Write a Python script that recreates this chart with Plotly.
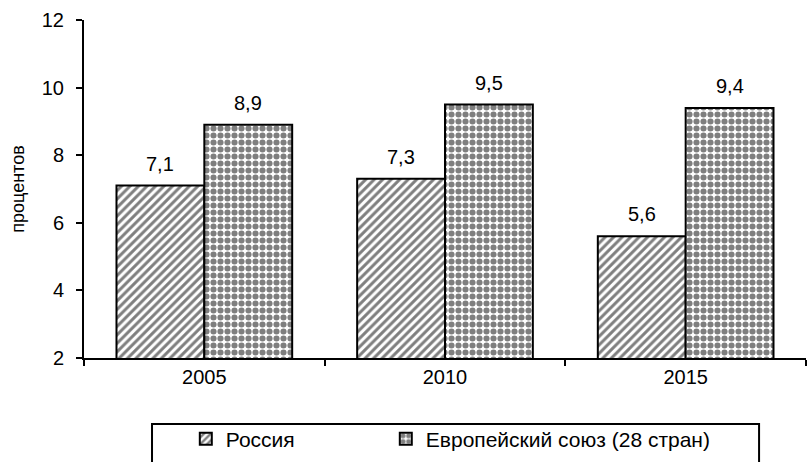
import plotly.graph_objects as go

years = ["2005", "2010", "2015"]
russia = [7.1, 7.3, 5.6]
eu = [8.9, 9.5, 9.4]
series_names = ["Россия", "Европейский союз (28 стран)"]
y_ticks = [2, 4, 6, 8, 10, 12]

FONT = "Liberation Sans, Arial, sans-serif"
W, H = 807, 462
M = dict(l=84, r=1, t=20, b=104)
BARGAP = 0.27

def fmt(v):
    return str(v).replace(".", ",")

fig = go.Figure()
fig.add_trace(go.Bar(
    x=years, y=russia, name=series_names[0], legend="legend",
    marker=dict(color="white", line=dict(color="black", width=2),
                pattern=dict(shape="/", fgcolor="black", bgcolor="white", size=6, solidity=0.5)),
))
fig.add_trace(go.Bar(
    x=years, y=eu, name=series_names[1], legend="legend2",
    marker=dict(color="white", line=dict(color="black", width=2),
                pattern=dict(shape=".", fgcolor="black", bgcolor="white", size=7, solidity=0.6)),
))

# value labels above each bar (offset = half a bar width, derived from layout)
plot_w = W - M["l"] - M["r"]
bar_w = plot_w / len(years) * (1 - BARGAP) / 2
for series, sign in ((russia, -1), (eu, 1)):
    for i, v in enumerate(series):
        fig.add_annotation(x=i, y=v, xref="x", yref="y", text=fmt(v), showarrow=False,
                           xshift=sign * bar_w / 2, yshift=22, yanchor="middle",
                           font=dict(size=20, family=FONT, color="black"))

leg_common = dict(orientation="h", yanchor="middle", y=-0.2396, xanchor="left",
                  font=dict(size=21, family=FONT), bgcolor="rgba(0,0,0,0)")
fig.update_layout(
    width=W, height=H,
    margin=M,
    paper_bgcolor="white", plot_bgcolor="white",
    font=dict(family=FONT, size=20, color="black"),
    barmode="group", bargap=BARGAP, bargroupgap=0,
    showlegend=True,
    legend=dict(x=0.141, **leg_common),
    legend2=dict(x=0.418, **leg_common),
)
fig.update_xaxes(
    type="category", range=[-0.5, len(years) - 0.5], showline=True, linecolor="black", linewidth=2,
    ticks="outside", tickson="boundaries", ticklen=6, tickwidth=1.5, tickcolor="black",
    showgrid=False, tickfont=dict(size=20), automargin=False,
)
fig.update_yaxes(
    range=[2, 12], tickvals=y_ticks, showline=True, linecolor="black", linewidth=2,
    ticks="outside", ticklen=6, tickwidth=2, tickcolor="black", ticklabelstandoff=8,
    showgrid=False, zeroline=False, tickfont=dict(size=20), automargin=False,
    title=dict(text="процентов", font=dict(size=18), standoff=12),
)
fig.add_shape(type="rect", xref="paper", yref="paper",
              x0=0.0942, x1=0.935, y0=-0.195, y1=-0.40,
              line=dict(color="black", width=2), fillcolor="rgba(0,0,0,0)", layer="above")

fig.write_html("out.html", config={"displayModeBar": False},
               post_script="document.body.style.margin='0';")
